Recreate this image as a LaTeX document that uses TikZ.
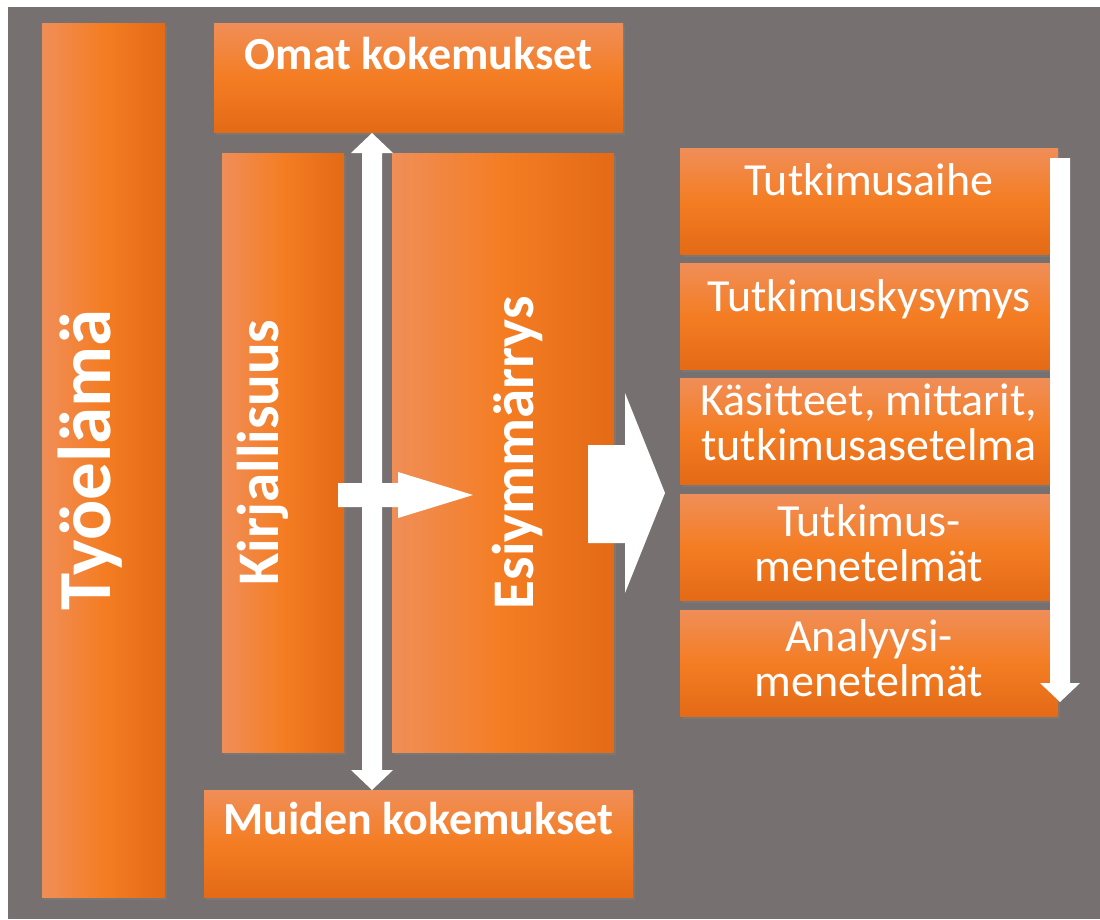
\documentclass[tikz,border=0pt]{standalone}
\usepackage{fontspec}
\setmainfont{Carlito}
\usetikzlibrary{shadows}

\definecolor{bggray}{RGB}{118,113,112}
\definecolor{orlight}{RGB}{240,142,88}
\definecolor{ormid}{RGB}{244,125,35}
\definecolor{ordark}{RGB}{228,106,22}

\tikzset{
  boxshadow/.style={drop shadow={opacity=0.45,shadow xshift=2pt,shadow yshift=-3pt}},
  hbox/.style={inner sep=0pt,left color=orlight,right color=ordark,middle color=ormid,boxshadow},
  vbox/.style={inner sep=0pt,top color=orlight,bottom color=ordark,middle color=ormid,boxshadow},
  boxtext/.style={text=white,inner sep=0pt,anchor=north,align=center},
  bigtext/.style={font=\bfseries\fontsize{46}{46}\selectfont},
  steptext/.style={font=\fontsize{46}{45}\selectfont},
  sidetext/.style={text=white,inner sep=0pt,rotate=90,font=\bfseries\fontsize{59}{59}\selectfont}
}

\begin{document}
\begin{tikzpicture}[x=1pt,y=-1pt]
         \useasboundingbox (0,0) rectangle (1100,919);
         \fill[white] (0,0) rectangle (1100,919);
         \fill[bggray] (8,7) rectangle (1100,919);
         % left column
         \node[hbox,minimum width=123,minimum height=874] (tyo) at (103.5,460) {};
         \node[sidetext,font=\bfseries\fontsize{75}{75}\selectfont] (tyotxt) at ([xshift=-13pt]tyo.center) {Työelämä};
         % top and bottom
         \node[vbox,minimum width=409,minimum height=109] (omat) at (418.5,77.5) {};
         \node[boxtext,bigtext,yshift=-14pt] (omattxt) at (omat.north) {Omat kokemukset};
         \node[vbox,minimum width=429,minimum height=107] (muiden) at (418.5,843.5) {};
         \node[boxtext,bigtext,yshift=-12pt] (muidentxt) at (muiden.north) {Muiden kokemukset};
         % middle columns
         \node[hbox,minimum width=122,minimum height=599] (kirj) at (283,452.5) {};
         \node[sidetext] (kirjtxt) at ([xshift=-20pt]kirj.center) {Kirjallisuus};
         \node[hbox,minimum width=222,minimum height=599] (esiy) at (503,452.5) {};
         \node[sidetext] (esiytxt) at ([xshift=14pt]esiy.center) {Esiymmärrys};
         % steps on the right
         \foreach \ypos/\name/\txt/\off in {201/aihe/Tutkimusaihe/16,316/kysymys/Tutkimuskysymys/17,
            {431/kas/Käsitteet, mittarit,\\tutkimusasetelma/6},547/tmen/Tutkimus-\\menetelmät/11,
            663/amen/Analyysi-\\menetelmät/10}
         {
            \node[vbox,minimum width=378,minimum height=106] (\name) at (869,\ypos) {};
            \node[boxtext,steptext,yshift=-\off pt] (\name txt) at (\name.north) {\txt};
         }
         % arrows
         \fill[white] (372,133) -- (393,153) -- (382,153) -- (382,770) -- (393,770)
            -- (372,790) -- (351,770) -- (362,770) -- (362,153) -- (351,153) -- cycle;
         \fill[white] (338,483) -- (398,483) -- (398,472) -- (473,495) -- (398,518)
            -- (398,507) -- (338,507) -- cycle;
         \fill[white] (588,445) -- (625,445) -- (625,393) -- (665,493) -- (625,593)
            -- (625,543) -- (588,543) -- cycle;
         \fill[white] (1050,158) -- (1070,158) -- (1070,683) -- (1080,683) -- (1060,702)
            -- (1040,683) -- (1050,683) -- cycle;
\end{tikzpicture}
\end{document}
